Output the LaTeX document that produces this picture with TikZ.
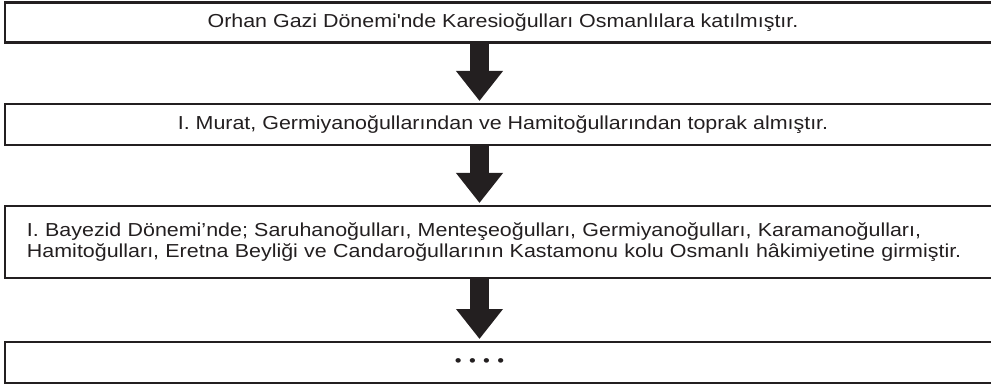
\documentclass[tikz,border=0pt]{standalone}
\usepackage{fontspec}
\setmainfont[FakeStretch=1.14]{Liberation Sans}
\usetikzlibrary{arrows.meta}
\definecolor{ink}{HTML}{231F20}
\begin{document}
\begin{tikzpicture}[x=1pt,y=-1pt,
  box/.style={draw=ink, line width=2.2pt, outer sep=0pt, inner sep=0pt, anchor=north west,
    minimum width=996pt, font=\fontsize{18.8}{21}\selectfont, text=ink},
  bigarrow/.style={draw=ink, line width=19pt, -{Triangle[width=45pt,length=30pt]}, shorten >=3pt}]
\useasboundingbox (0,0) rectangle (991,385);
\clip (0,0) rectangle (991,385);
\coordinate (ax) at (479.5,0);
\node[box, minimum height=40pt] (b1) at (5,2.5) {Orhan Gazi Dönemi\textquotesingle nde Karesioğulları Osmanlılara katılmıştır.};
\node[box, minimum height=41pt] (b2) at (5,104) {I. Murat, Germiyanoğullarından ve Hamitoğullarından toprak almıştır.};
\node[box, minimum height=72pt, text width=990pt, inner xsep=22pt, align=left] (b3) at (5,206) {I. Bayezid Dönemi’nde; Saruhanoğulları, Menteşeoğulları, Germiyanoğulları, Karamanoğulları,\\Hamitoğulları, Eretna Beyliği ve Candaroğullarının Kastamonu kolu Osmanlı hâkimiyetine girmiştir.};
\node[box, minimum height=41pt] (b4) at (5,342) {};
\node[font=\fontsize{17}{20.5}\selectfont, text=ink, inner sep=0pt] (dots) at (ax |- b4.center) {•\hspace{7.4pt}•\hspace{7.4pt}•\hspace{7.4pt}•};
\draw[bigarrow] (b1.south -| ax) -- (b2.north -| ax);
\draw[bigarrow] (b2.south -| ax) -- (b3.north -| ax);
\draw[bigarrow] (b3.south -| ax) -- (b4.north -| ax);
\end{tikzpicture}
\end{document}
